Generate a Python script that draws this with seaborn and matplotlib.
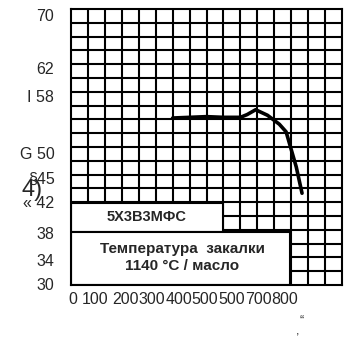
import numpy as np
import seaborn as sns
import matplotlib.pyplot as plt
from matplotlib.patches import Rectangle

# curve
temper = [300, 350, 400, 450, 500, 520, 545, 580, 615, 635, 665, 682]
hardness = [54.2, 54.3, 54.4, 54.3, 54.3, 54.7, 55.4, 54.6, 53.3, 52.2, 47.1, 43.3]

# tick labels as printed (scanned text, kept as is)
xLabels = ['0', '100', '200', '300', '400', '500', '500', '700', '800']
xLabelPos = [4, 70, 161, 239, 318, 396, 474, 553, 631]
yLabels = ['70', '62', 'I 58', 'G 50', '§45', '« 42', '38', '34', '30']
yLabelPos = [69.1, 61.45, 57.4, 49.1, 45.5, 42.0, 37.5, 33.6, 30.1]

steel = '5Х3В3МФС'
regime = 'Температура  закалки\n1140 °C / масло'

sns.set_style('white')
plt.rcParams['font.family'] = ['Liberation Sans', 'DejaVu Sans']

fig = plt.figure(figsize=(3.5, 3.42), dpi=100)
ax = fig.add_axes([71/350, 57/342, 271/350, 276/342])

# grid paper
ax.vlines(np.arange(50, 800, 50), 30, 70, colors='k', lw=1.5, zorder=1)
ax.hlines(np.arange(32, 70, 2), 0, 800, colors='k', lw=1.5, zorder=1)

sns.lineplot(x=temper, y=hardness, ax=ax, color='k', lw=2.6, zorder=3)

# white label boxes over the grid
ax.add_patch(Rectangle((0, 37.7), 449, 4.2, fc='white', ec='k', lw=1.5, zorder=2))
ax.add_patch(Rectangle((0, 30), 646, 7.7, fc='white', ec='k', lw=1.5, zorder=2))
ax.text(222, 39.8, steel, ha='center', va='center', fontsize=10.5, fontweight='bold', zorder=3)
ax.text(328, 34.0, regime, ha='center', va='center', fontsize=11, fontweight='bold',
        linespacing=1.3, zorder=3)

ax.set_xlim(0, 800)
ax.set_ylim(30, 70)
ax.set_xticks(xLabelPos)
ax.set_xticklabels(xLabels, fontsize=11.5)
ax.set_yticks(yLabelPos)
ax.set_yticklabels(yLabels, fontsize=11.5)
ax.set_xticks(np.arange(0, 801, 50), minor=True)
ax.set_yticks(np.arange(30, 71, 2), minor=True)
ax.tick_params(which='major', length=0)
ax.tick_params(axis='x', which='major', pad=5)
ax.tick_params(axis='y', which='major', pad=12)
ax.tick_params(which='minor', direction='in', length=4, width=1.2, color='k')
for s in ax.spines.values():
    s.set_color('k')
    s.set_linewidth(1.5)

fig.text(21/350, 1 - 190/342, '4)', fontsize=17, ha='left', va='center')
fig.text(302/350, 1 - 321/342, '“', fontsize=9, ha='center', va='center')
fig.text(298/350, 1 - 331/342, ',', fontsize=9, ha='center', va='center')

plt.savefig('out.png', dpi=100)
